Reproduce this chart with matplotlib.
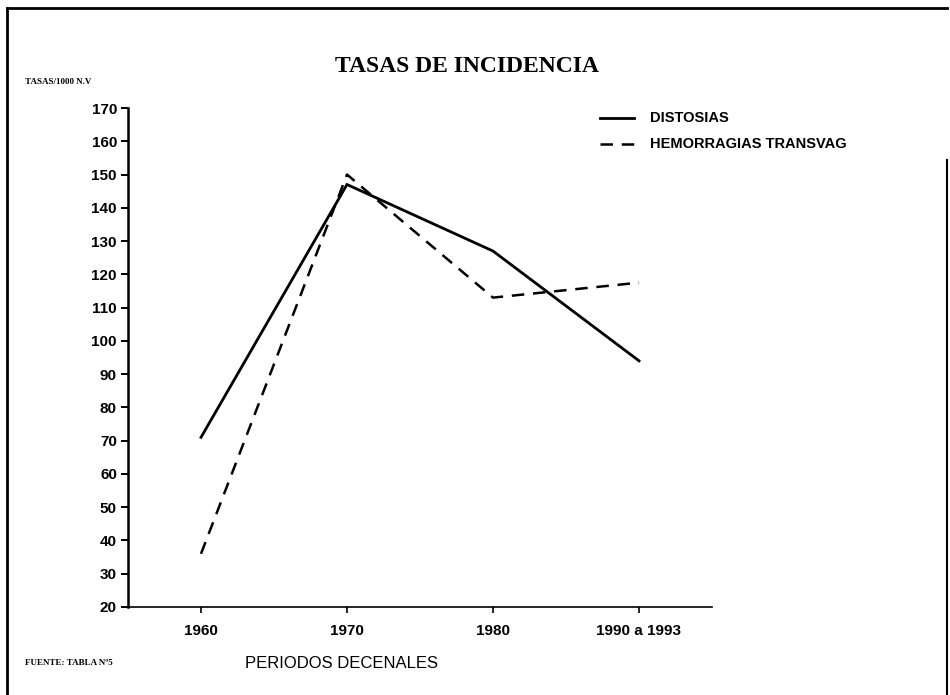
import numpy as np
import matplotlib
matplotlib.use("Agg")
import matplotlib.pyplot as plt
from matplotlib.lines import Line2D

# data
periodos = ["1960", "1970", "1980", "1990 a 1993"]
distosias = [71, 147, 127, 94]
hemorragias = [36, 150, 113, 117.5]
yticks = list(range(20, 171, 10))

W, H = 950, 695
fig = plt.figure(figsize=(W / 100, H / 100), dpi=100)

def px(x, y):
    # pixel coords -> figure fraction
    return x / W, 1 - y / H

# axes box: x from 128 to 712 px, y from 108 (170) to 607 (20)
l, b = px(128, 607)
r, t = px(712, 108)
ax = fig.add_axes([l, b, r - l, t - b])

x = np.arange(len(periodos))
ax.plot(x, distosias, color="black", lw=2.0, solid_joinstyle="miter")
ax.plot(x, hemorragias, color="black", lw=1.8, dashes=(5, 3.5))

ax.set_xlim(-0.5, 3.5)
ax.set_ylim(20, 170)
ax.set_yticks(yticks)
ax.set_xticks(x)
ax.set_xticklabels(periodos)
ax.spines["top"].set_visible(False)
ax.spines["right"].set_visible(False)
ax.spines["left"].set_linewidth(1.8)
ax.spines["bottom"].set_linewidth(1.2)
ax.tick_params(axis="y", direction="out", length=5, width=1.4, pad=3)
ax.tick_params(axis="x", direction="out", length=4, width=1.2, pad=8)
for lab in ax.get_yticklabels() + ax.get_xticklabels():
    lab.set_family("Liberation Sans")
    lab.set_fontweight("heavy")
    lab.set_fontsize(11)

# title and labels
fig.text(*px(467, 67), "TASAS DE INCIDENCIA", ha="center", va="center",
         family="Liberation Serif", fontweight="bold", fontsize=17)
fig.text(*px(25, 82), "TASAS/1000 N.V", ha="left", va="center",
         family="Liberation Serif", fontweight="bold", fontsize=6.5)
fig.text(*px(245, 663), "PERIODOS DECENALES", ha="left", va="center",
         family="Liberation Sans", fontsize=12)
fig.text(*px(25, 663), "FUENTE: TABLA Nº5", ha="left", va="center",
         family="Liberation Serif", fontweight="bold", fontsize=6.5)

# legend drawn by hand, like the original
fig.add_artist(Line2D([600 / W, 634 / W], [1 - 118 / H] * 2, color="black", lw=2.0))
fig.add_artist(Line2D([600 / W, 634 / W], [1 - 144 / H] * 2, color="black", lw=1.8,
                      dashes=(5, 3.5)))
fig.text(*px(650, 118), "DISTOSIAS", ha="left", va="center",
         family="Liberation Sans", fontweight="bold", fontsize=10.5)
fig.text(*px(650, 144), "HEMORRAGIAS TRANSVAG", ha="left", va="center",
         family="Liberation Sans", fontweight="bold", fontsize=10.5)

# page frame from the scan
fig.add_artist(Line2D([7 / W, 947 / W], [1 - 8 / H] * 2, color="black", lw=2.0))
fig.add_artist(Line2D([7 / W, 7 / W], [1 - 8 / H, 0], color="black", lw=2.0))
fig.add_artist(Line2D([947 / W, 947 / W], [1 - 160 / H, 0], color="black", lw=1.5))

fig.savefig("out.png", dpi=100)
